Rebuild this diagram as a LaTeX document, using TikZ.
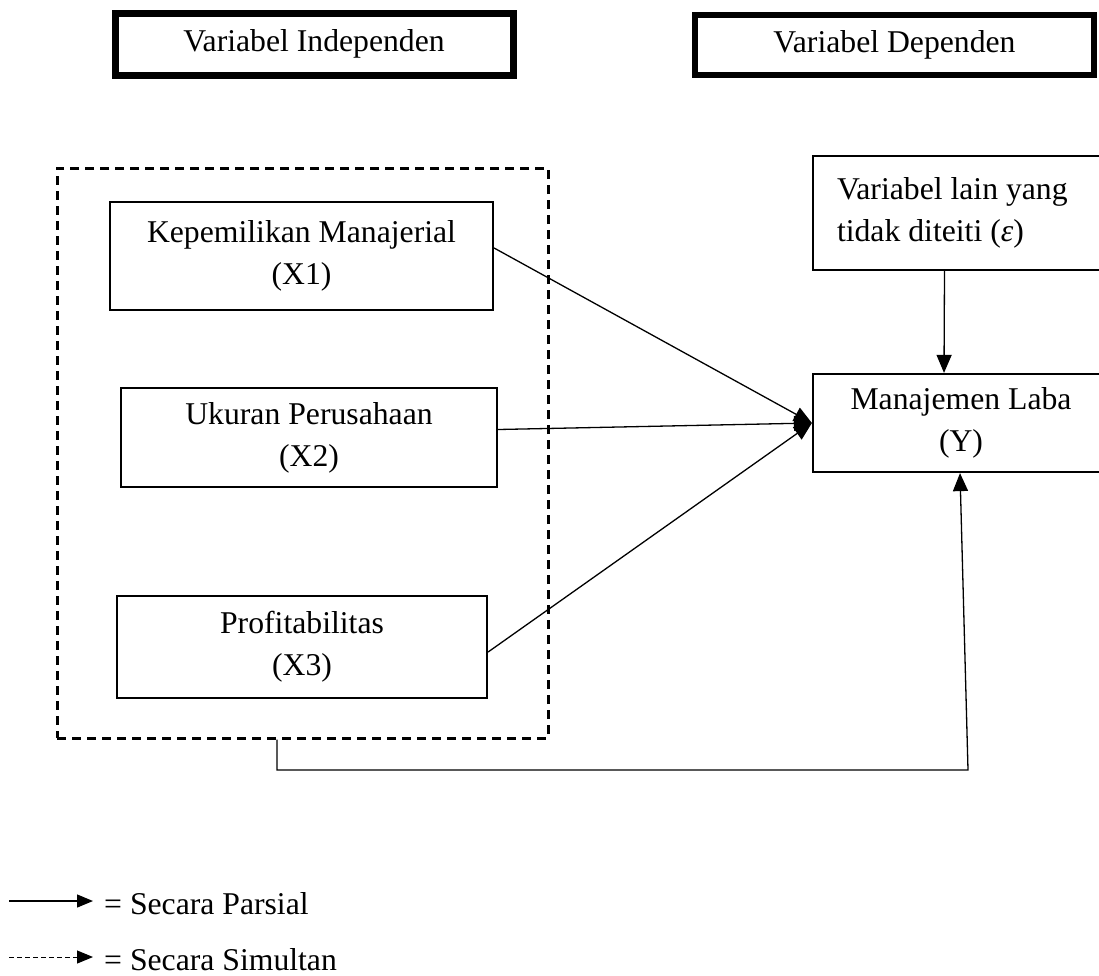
\documentclass[tikz,border=0pt]{standalone}
\usepackage{fontspec}
\setmainfont{Liberation Serif}
\usetikzlibrary{arrows.meta}
\begin{document}
\begin{tikzpicture}[x=1pt,y=-1pt,
  font=\fontsize{31.7}{42}\selectfont,
  box/.style={draw, line width=2.2pt, rectangle, inner sep=0pt, align=center},
  headbox/.style={draw, rectangle, inner sep=0pt, align=center},
  grpbox/.style={draw, rectangle, line width=3pt, dash pattern=on 9pt off 6pt},
  conn/.style={line width=1.3pt, -{Triangle[length=18pt,width=15pt]}},
  legtext/.style={anchor=base west, inner sep=0pt},
]
\clip (0,0) rectangle (1099,975);
\fill[white] (0,0) rectangle (1099,975);

% header boxes
\node[headbox, line width=7pt, minimum width=398pt, minimum height=62pt] (hind) at (314,44) {Variabel Independen};
\node[headbox, line width=6pt, minimum width=399pt, minimum height=60pt] (hdep) at (894.5,45) {Variabel Dependen};

% dashed group
\node[grpbox, minimum width=491pt, minimum height=570pt] (grp) at (302.5,453) {};

% independent variables
\node[box, minimum width=383pt, minimum height=108pt] (x1) at (301.5,256) {Kepemilikan Manajerial\\(X1)};
\node[box, minimum width=376pt, minimum height=99pt] (x2) at (309,437.5) {Ukuran Perusahaan\\(X2)};
\node[box, minimum width=370pt, minimum height=102pt] (x3) at (302,647) {Profitabilitas\\(X3)};

% dependent side
\node[box, minimum width=297pt, minimum height=114pt, align=flush left, text width=249pt, inner xsep=24pt] (eps) at (961.5,213) {Variabel lain yang\\tidak diteiti (\textit{ε})};
\node[box, minimum width=296pt, minimum height=98pt] (y) at (961,423) {Manajemen Laba\\(Y)};

% partial arrows
\draw[conn] ([yshift=8pt]x1.east) -- (y.west);
\draw[conn] ([yshift=8pt]x2.east) -- (y.west);
\draw[conn] ([yshift=-5pt]x3.east) -- (y.west);
\draw[conn] ([xshift=-17pt]eps.south) -- ([xshift=-17pt]y.north);

% simultaneous loop
\coordinate (c1) at (277,770);
\coordinate (c2) at (968,770);
\draw[conn] ([xshift=-25.5pt]grp.south) -- (c1) -- (c2) -- ([xshift=-1pt]y.south);

% legend
\coordinate (l1s) at (9,901);
\coordinate (l1e) at (93,901);
\coordinate (l2s) at (9,957);
\coordinate (l2e) at (93,957);
\node[legtext] (lg1) at (104,914) {= Secara Parsial};
\node[legtext] (lg2) at (104,970) {= Secara Simultan};
\draw[line width=1.3pt, -{Triangle[length=16pt,width=13pt]}] (l1s) -- (l1e);
\draw[line width=1pt, dash pattern=on 5pt off 3pt, -{Triangle[length=16pt,width=13pt]}] (l2s) -- (l2e);
\end{tikzpicture}
\end{document}
